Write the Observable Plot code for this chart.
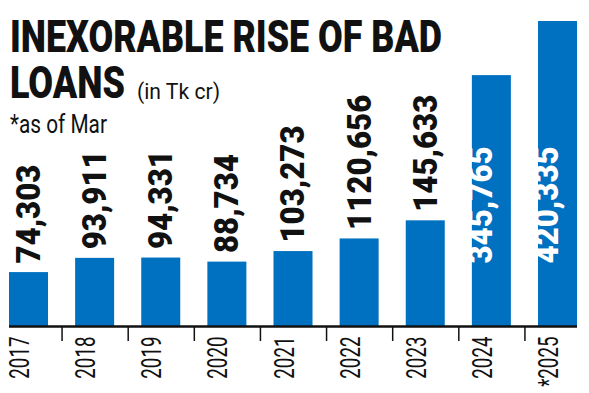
<!DOCTYPE html>
<html>
<head>
<meta charset="utf-8">
<script src="https://cdn.jsdelivr.net/npm/d3@7"></script>
<script src="https://cdn.jsdelivr.net/npm/@observablehq/plot@0.6"></script>
<style>
html, body { margin: 0; padding: 0; background: #fff; }
#wrap { position: relative; width: 589px; height: 393px; overflow: hidden; }
#chart { position: absolute; left: 0; top: 0; }
.t { position: absolute; white-space: nowrap; line-height: 0.8; transform-origin: 0 0; color: #111; }
.h { font-family: Roboto, "Liberation Sans", sans-serif; font-weight: 900; font-size: 44px; }
.s { font-family: Roboto, "Liberation Sans", sans-serif; font-weight: 400; }
</style>
</head>
<body>
<div id="wrap">
  <div id="chart"></div>
  <div class="t h" data-w="432" style="left:10px; top:19.7px;">INEXORABLE RISE OF BAD</div>
  <div class="t h" data-w="115" style="left:10px; top:65.7px;">LOANS</div>
  <div class="t s" data-w="83" style="left:137px; top:83.3px; font-size:22px;">(in Tk cr)</div>
  <div class="t s" data-w="97" style="left:10px; top:115.2px; font-size:25px;">*as of Mar</div>
</div>
<script>
const years = ["2017", "2018", "2019", "2020", "2021", "2022", "2023", "2024", "2025"];
const values = [74303, 93911, 94331, 88734, 103273, 120656, 145633, 345765, 420335];
const valueLabels = ["74,303", "93,911", "94,331", "88,734", "103,273", "1120,656", "145,633", "345,765", "420,335"];
const yearLabels = ["2017", "2018", "2019", "2020", "2021", "2022", "2023", "2024", "*2025"];
const insideYears = ["2024", "2025"];

const data = years.map((y, i) => ({
  year: y, value: values[i], label: valueLabels[i], yearLabel: yearLabels[i], inside: insideYears.includes(y)
}));

const W = 589, H = 393, ML = 9, MR = 12, MT = 21, MB = 67;
const xs = d3.scaleBand().domain(years).range([ML, W - MR]).paddingInner(0.41).paddingOuter(0);
const step = xs.step();

const blue = "#0070c0";
const chart = Plot.plot({
  width: W, height: H,
  marginLeft: ML, marginRight: MR, marginTop: MT, marginBottom: MB,
  style: {background: "transparent", overflow: "hidden"},
  x: {type: "band", domain: years, paddingInner: 0.41, paddingOuter: 0, round: false, axis: null},
  y: {domain: [0, d3.max(values)], axis: null},
  marks: [
    Plot.barY(data, {x: "year", y: "value", fill: blue}),
    Plot.ruleY([0], {stroke: "#111", strokeWidth: 2.5}),
    Plot.ruleX(years.slice(1), {x: d => d, y1: 0, y2: -d3.max(values) * 15 / 305, dx: -step / 2, stroke: "#111", strokeWidth: 1.5}),
    Plot.text(data.filter(d => !d.inside), {
      x: "year", y: "value", text: "label", dy: -9, rotate: -90, textAnchor: "start",
      fontFamily: "Roboto", fontWeight: 900, fontSize: 34, fill: "#111"
    }),
    Plot.text(data.filter(d => d.inside), {
      x: "year", frameAnchor: "bottom", text: "label", dy: -63, rotate: -90, textAnchor: "start",
      fontFamily: "Roboto", fontWeight: 900, fontSize: 34, fill: "#fff"
    }),
    Plot.text(data, {
      x: "year", frameAnchor: "bottom", text: "yearLabel", dy: 10, rotate: -90, textAnchor: "end",
      fontFamily: "Roboto", fontWeight: 400, fontSize: 28, fill: "#111"
    })
  ]
});
document.getElementById("chart").appendChild(chart);

const textGroups = chart.querySelectorAll('g[aria-label="text"]');
function condense(group, k) {
  if (!group) return;
  group.querySelectorAll("text").forEach(t => {
    const tr = t.getAttribute("transform") || "";
    t.setAttribute("transform", tr + ` scale(${k},1)`);
  });
}
condense(textGroups[0], 0.92);
condense(textGroups[1], 0.92);
condense(textGroups[2], 0.67);

function fit() {
  document.querySelectorAll(".t[data-w]").forEach(el => {
    el.style.transform = "none";
    const w = el.getBoundingClientRect().width;
    el.style.transform = `scaleX(${(+el.dataset.w) / w})`;
  });
}
fit();
if (document.fonts && document.fonts.ready) document.fonts.ready.then(fit);
</script>
</body>
</html>
